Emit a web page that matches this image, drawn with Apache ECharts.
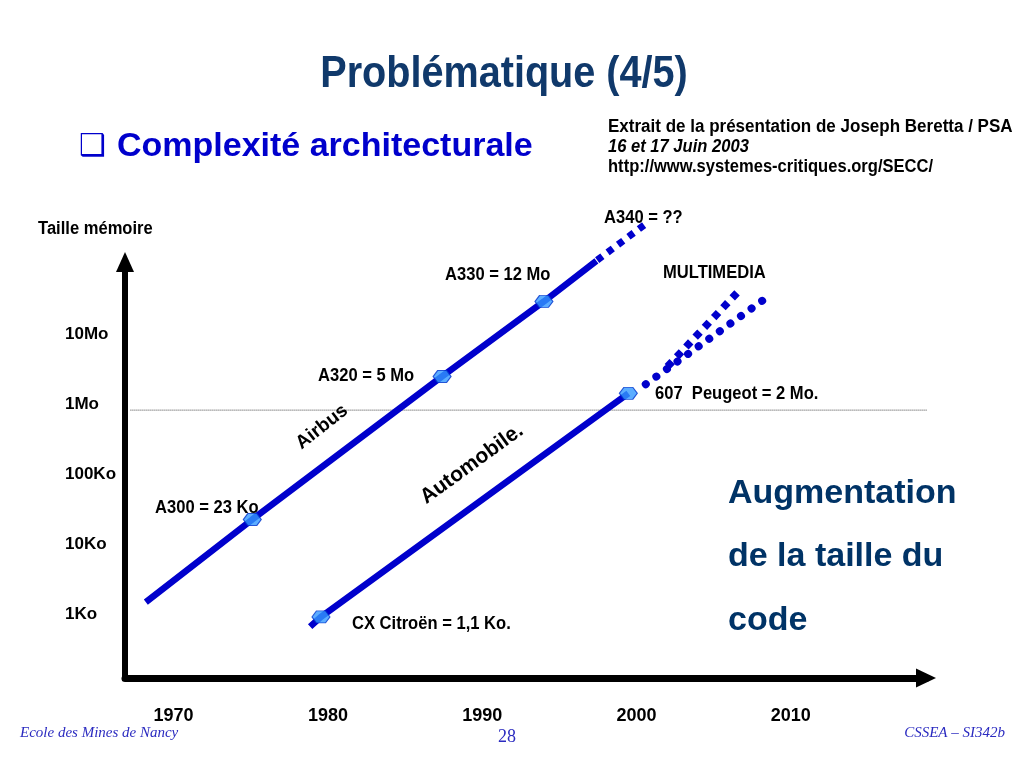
<!DOCTYPE html>
<html>
<head>
<meta charset="utf-8">
<script src="https://cdn.jsdelivr.net/npm/echarts@6/dist/echarts.min.js"></script>
<style>
html,body{margin:0;padding:0;background:#fff;}
#chart{width:1024px;height:768px;}
</style>
</head>
<body>
<div id="chart"></div>
<script>
// ---- data (years on x, log10 of size in Ko on y) ----
const yearTicks = [1970, 1980, 1990, 2000, 2010];
const sizeTicks = [0, 1, 2, 3, 4];
const sizeLabels = ['1Ko', '10Ko', '100Ko', '1Mo', '10Mo'];

const airbusLineYears = [1968.2, 1997.4];
const airbusLineLevels = [0.18, 5.05];
const airbusModels = ['A300 = 23 Ko', 'A320 = 5 Mo', 'A330 = 12 Mo'];
const airbusModelYears = [1975.1, 1987.4, 1994.0];
const airbusModelLevels = [1.36, 3.40, 4.47];
const airbusFutureYears = [1997.45, 2000.5];
const airbusFutureLevels = [5.06, 5.56];

const autoLineYears = [1978.85];
const autoLineLevels = [-0.17];
const autoModels = ['CX Citroën = 1,1 Ko.', '607  Peugeot = 2 Mo.'];
const autoModelYears = [1979.55, 1999.47];
const autoModelLevels = [-0.03, 3.16];
const autoFutureYears = [2000.6, 2008.15];
const autoFutureLevels = [3.29, 4.48];
const multimediaYears = [2002.0, 2006.8];
const multimediaLevels = [3.54, 4.66];

const refLevel = 2.92;
const refYears = [1967.2, 2019.35];

// ---- helpers ----
const zip = (xs, ys) => xs.map((x, i) => [x, ys[i]]);
const SANS = "'Liberation Sans',Arial,sans-serif";
const SERIF = "'Liberation Serif','Times New Roman',serif";
const BLUE = '#0000CC';
const HEX = 'path://M4,0 L12,0 L16,5 L12,10 L4,10 L0,5 Z';

const xMin = 1966.85, xMax = 2018.76;
const yMin = -0.9016, yMax = 5.033;

const airbusLine = [zip(airbusLineYears, airbusLineLevels)[0]]
  .concat(zip(airbusModelYears, airbusModelLevels))
  .concat([zip(airbusLineYears, airbusLineLevels)[1]]);
const autoLine = zip(autoLineYears, autoLineLevels).concat(zip(autoModelYears, autoModelLevels));

const chart = echarts.init(document.getElementById('chart'));

// condensed bold text (the slide uses a narrow face) -> horizontal scale
function txt(text, x, y, o) {
  o = o || {};
  return {
    type: 'text', x: x, y: y, rotation: o.rotation || 0, z: 50,
    scaleX: o.scaleX || 1,
    style: {
      text: text,
      fill: o.color || '#000',
      font: (o.style || '') + ' ' + (o.weight || 'bold') + ' ' + (o.size || 18) + 'px ' + (o.family || SANS),
      textAlign: o.align || 'left',
      textVerticalAlign: 'middle'
    }
  };
}
const N = { size: 18, scaleX: 0.92 };
const nar = (extra) => Object.assign({}, N, extra || {});

const option = {
  animation: false,
  backgroundColor: '#fff',
  grid: { left: 125, right: 98, top: 262, bottom: 90 },
  xAxis: {
    type: 'value', min: xMin, max: xMax,
    axisLine: { show: true, onZero: false, symbol: ['none', 'triangle'], symbolSize: [19, 20],
      lineStyle: { color: '#000', width: 7 } },
    axisTick: { show: false },
    splitLine: { show: false },
    axisLabel: {
      customValues: yearTicks, margin: 29,
      formatter: v => String(Math.round(v)),
      color: '#000', fontSize: 18, fontWeight: 'bold', fontFamily: SANS
    }
  },
  yAxis: {
    type: 'value', min: yMin, max: yMax,
    axisLine: { show: true, onZero: false, symbol: ['none', 'triangle'], symbolSize: [18, 20],
      lineStyle: { color: '#000', width: 6, cap: 'square' } },
    axisTick: { show: false },
    splitLine: { show: false },
    axisLabel: {
      customValues: sizeTicks, margin: 60, align: 'left',
      formatter: v => sizeLabels[sizeTicks.indexOf(Math.round(v))] || '',
      color: '#000', fontSize: 17, fontWeight: 'bold', fontFamily: SANS
    }
  },
  series: [
    { type: 'line', data: refYears.map(y => [y, refLevel]), symbol: 'none', clip: false, z: 1,
      lineStyle: { color: '#444', width: 1, type: [1, 1] } },
    { type: 'line', name: 'Airbus', data: airbusLine, symbol: 'none', clip: false, z: 3,
      lineStyle: { color: BLUE, width: 6.5 } },
    { type: 'line', data: zip(airbusFutureYears, airbusFutureLevels), symbol: 'none', clip: false, z: 3,
      lineStyle: { color: BLUE, width: 7, type: [6.5, 6.5], cap: 'butt' } },
    { type: 'line', name: 'Automobile', data: autoLine, symbol: 'none', clip: false, z: 3,
      lineStyle: { color: BLUE, width: 6.5 } },
    { type: 'line', data: zip(autoFutureYears, autoFutureLevels), symbol: 'none', clip: false, z: 3,
      lineStyle: { color: BLUE, width: 8, type: [0.01, 13], cap: 'round' } },
    { type: 'line', name: 'Multimedia', data: zip(multimediaYears, multimediaLevels), symbol: 'none', clip: false, z: 3,
      lineStyle: { color: BLUE, width: 7.5, type: [7, 6.5], cap: 'butt' } },
    { type: 'scatter', data: zip(airbusModelYears, airbusModelLevels).concat(zip(autoModelYears, autoModelLevels)),
      symbol: HEX, symbolSize: [18, 12], clip: false, z: 5,
      itemStyle: { color: '#3399FF', borderColor: '#0033CC', borderWidth: 1 } }
  ],
  graphic: [
    txt('Problématique (4/5)', 504, 75, { size: 44, scaleX: 0.9, color: '#10396B', align: 'center' }),
    txt('❑', 79, 147, { size: 30, color: '#0000CC', family: "'DejaVu Sans',sans-serif", weight: 'normal' }),
    txt('Complexité architecturale', 117, 147, { size: 34, color: '#0000CC' }),
    txt('Extrait de la présentation de Joseph Beretta / PSA', 608, 127, { size: 18, scaleX: 0.945 }),
    txt('16 et 17 Juin 2003', 608, 147, { size: 18, scaleX: 0.92, style: 'italic' }),
    txt('http://www.systemes-critiques.org/SECC/', 608, 167, { size: 18, scaleX: 0.92 }),
    txt('Taille mémoire', 38, 229, nar()),
    txt('A340 = ??', 604, 218, nar()),
    txt(airbusModels[2], 445, 275, nar()),
    txt('MULTIMEDIA', 663, 273, nar()),
    txt(airbusModels[1], 318, 376, nar()),
    txt(autoModels[1], 655, 394, nar()),
    txt(airbusModels[0], 155, 508, nar()),
    txt(autoModels[0], 352, 624, nar()),
    txt('Airbus', 322, 427, { size: 19, align: 'center', rotation: 38 * Math.PI / 180 }),
    txt('Automobile.', 472, 464, { size: 21, align: 'center', rotation: 36 * Math.PI / 180 }),
    txt('Augmentation', 728, 494, { size: 34, color: '#003366' }),
    txt('de la taille du', 728, 557, { size: 34, color: '#003366' }),
    txt('code', 728, 621, { size: 34, color: '#003366' }),
    txt('Ecole des Mines de Nancy', 20, 733, { size: 15, color: '#2B2BC0', family: SERIF, style: 'italic', weight: 'normal' }),
    txt('28', 507, 737, { size: 18, color: '#2B2BC0', family: SERIF, weight: 'normal', align: 'center' }),
    txt('CSSEA – SI342b', 1005, 733, { size: 15, color: '#2B2BC0', family: SERIF, style: 'italic', weight: 'normal', align: 'right' })
  ]
};
chart.setOption(option);
</script>
</body>
</html>
